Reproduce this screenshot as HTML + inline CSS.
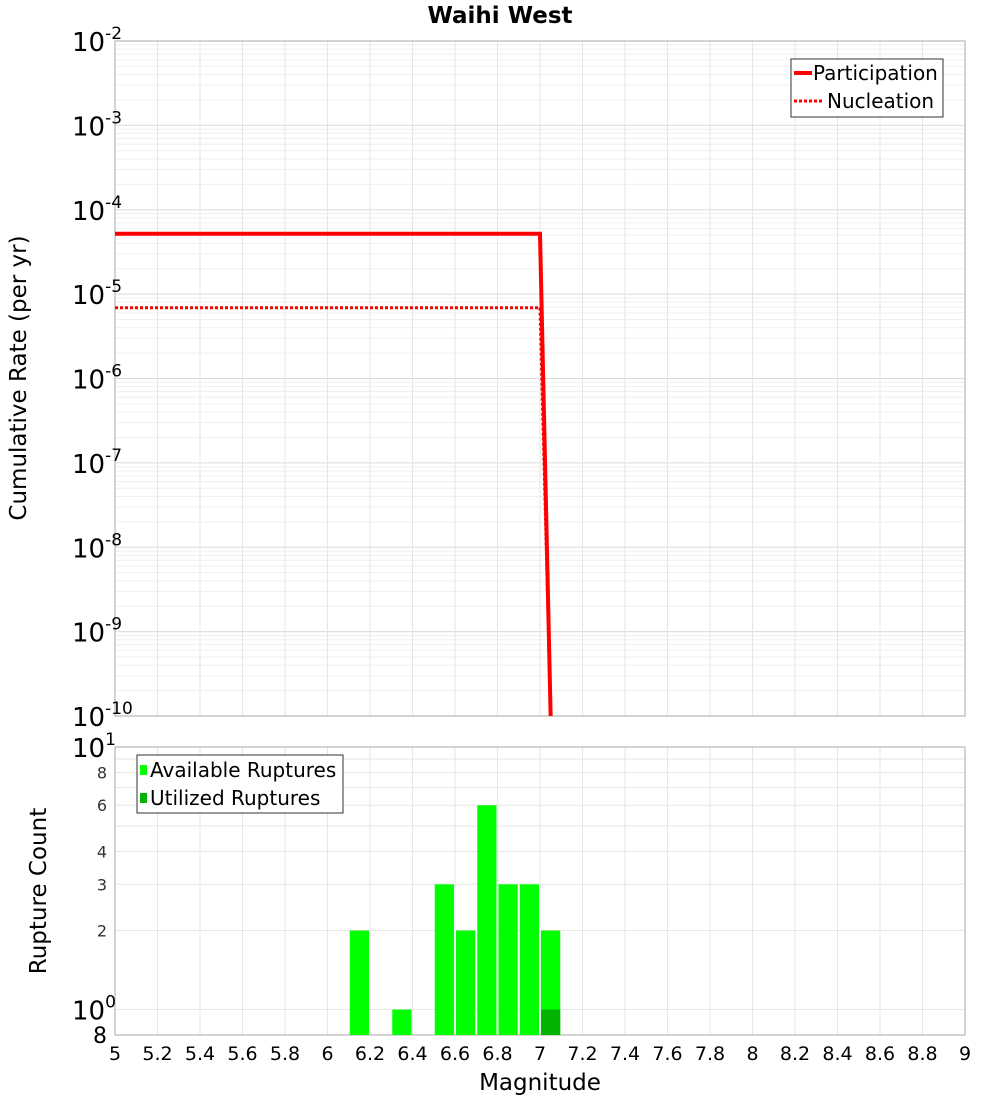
<!DOCTYPE html>
<html><head><meta charset="utf-8"><style>
body{margin:0;background:#fff;font-family:"DejaVu Sans","Liberation Sans",sans-serif}
svg text{font-family:"DejaVu Sans","Liberation Sans",sans-serif}
</style></head><body>
<svg id="c" width="1000" height="1100" xmlns="http://www.w3.org/2000/svg"></svg>
<script>
const xTicks=[5,5.2,5.4,5.6,5.8,6,6.2,6.4,6.6,6.8,7,7.2,7.4,7.6,7.8,8,8.2,8.4,8.6,8.8,9];
const partMag=[5,7.0,7.05];
const partRate=[5.2e-5,5.2e-5,1e-10];
const nuclMag=[5,7.0,7.05];
const nuclRate=[6.9e-6,6.9e-6,1e-10];
const binCenters=[6.15,6.35,6.55,6.65,6.75,6.85,6.95,7.05];
const availCounts=[2,1,3,2,6,3,3,2];
const utilCenters=[7.05];
const utilCounts=[1];
const topExps=[-2,-3,-4,-5,-6,-7,-8,-9,-10];
const botTicks=[2,3,4,6,8];

const svg=document.getElementById('c');const NS='http://www.w3.org/2000/svg';
function mk(t,a,txt,name,p){const e=document.createElementNS(NS,t);for(const k in a)e.setAttribute(k,a[k]);


if(txt!=null)e.textContent=txt;(p||svg).appendChild(e);return e;}
const X0=115,X1=965;
const x=m=>X0+(m-5)/4*(X1-X0);
const T0=41,T1=716;
const yT=v=>T0+(-2-Math.log10(v))/8*(T1-T0);
const B0=747,B1=1035,lmin=Math.log10(0.8);
const yB=v=>B1-(Math.log10(v)-lmin)/(1-lmin)*(B1-B0);

mk('text',{x:500,y:23,'text-anchor':'middle','font-size':23,'font-weight':'bold'},'Waihi West','chart-title');
for(let e=-10;e<-2;e++)for(let k=1;k<10;k++){const y=yT(k*Math.pow(10,e));mk('line',{x1:X0,x2:X1,y1:y,y2:y,stroke:k==1?'#dcdcdc':'#efefef','stroke-width':1},null,'grid-line-h');}
for(const t of xTicks){mk('line',{x1:x(t),x2:x(t),y1:T0,y2:T1,stroke:'#e6e6e6'},null,'grid-line-v');mk('line',{x1:x(t),x2:x(t),y1:B0,y2:B1,stroke:'#e6e6e6'},null,'grid-line-v');}
for(let k=1;k<=10;k++){const y=yB(k);if(y>=B0&&y<=B1)mk('line',{x1:X0,x2:X1,y1:y,y2:y,stroke:'#e6e6e6'},null,'grid-line-h');}
mk('rect',{x:X0,y:T0,width:X1-X0,height:T1-T0,fill:'none',stroke:'#aaa'},null,'top-plot-frame');
mk('rect',{x:X0,y:B0,width:X1-X0,height:B1-B0,fill:'none',stroke:'#aaa'},null,'bottom-plot-frame');
function pw(tx,ty,e,name){const t=mk('text',{x:tx,y:ty,'font-size':26},null,name);const a=document.createElementNS(NS,'tspan');a.textContent='10';t.appendChild(a);const b=document.createElementNS(NS,'tspan');b.setAttribute('dy',-12);b.setAttribute('font-size',17);b.textContent=e;t.appendChild(b);}
for(const e of topExps){pw(72,yT(Math.pow(10,e))+10,e,'y-tick-label');}
mk('text',{x:26,y:378,'text-anchor':'middle','font-size':23,transform:'rotate(-90 26 378)'},'Cumulative Rate (per yr)','y-axis-title-top');
function poly(ms,rs,name,dash){mk('polyline',{points:ms.map((m,i)=>x(m)+','+yT(rs[i])).join(' '),fill:'none',stroke:'#f00','stroke-width':dash?3:4,'stroke-dasharray':dash?'3,2':'none'},null,name);}
poly(partMag,partRate,'participation-line',false);
poly(nuclMag,nuclRate,'nucleation-line',true);
const lg=mk('g',{},null,'legend-top');
mk('rect',{x:791,y:59,width:152,height:58,fill:'#fff',stroke:'#333'},null,'legend-box',lg);
mk('line',{x1:794,x2:812,y1:73,y2:73,stroke:'#f00','stroke-width':4},null,'legend-participation-swatch',lg);
mk('text',{x:813,y:80,'font-size':20},'Participation','legend-participation',lg);
mk('line',{x1:794,x2:822,y1:101,y2:101,stroke:'#f00','stroke-width':3,'stroke-dasharray':'3,2'},null,'legend-nucleation-swatch',lg);
mk('text',{x:827,y:108,'font-size':20},'Nucleation','legend-nucleation',lg);
const bw=0.1*(X1-X0)/4;
binCenters.forEach((c,i)=>{const y=yB(availCounts[i]);mk('rect',{x:x(c)-bw/2+1,y:y,width:bw-2,height:B1-y,fill:'#00ff00'},null,'available-bar');});
utilCenters.forEach((c,i)=>{const y=yB(utilCounts[i]);mk('rect',{x:x(c)-bw/2+1,y:y,width:bw-2,height:B1-y,fill:'#00b400'},null,'utilized-bar');});
for(const v of botTicks)mk('text',{x:107,y:yB(v)+6,'text-anchor':'end','font-size':16,fill:'#333'},v,'y-tick-label-bottom');
pw(72,yB(10)+10,'1','y-tick-label-bottom');
pw(72,yB(1)+10,'0','y-tick-label-bottom');
mk('text',{x:107,y:1043,'text-anchor':'end','font-size':22},'8','y-tick-label-bottom');
mk('text',{x:46,y:891,'text-anchor':'middle','font-size':23,transform:'rotate(-90 46 891)'},'Rupture Count','y-axis-title-bottom');
const lb=mk('g',{},null,'legend-bottom');
mk('rect',{x:137,y:755,width:206,height:58,fill:'#fff',stroke:'#333'},null,'legend-box',lb);
mk('rect',{x:140,y:765,width:7,height:10,fill:'#00ff00'},null,'legend-available-swatch',lb);
mk('text',{x:150,y:777,'font-size':20},'Available Ruptures','legend-available',lb);
mk('rect',{x:140,y:793,width:7,height:10,fill:'#00b400'},null,'legend-utilized-swatch',lb);
mk('text',{x:150,y:805,'font-size':20},'Utilized Ruptures','legend-utilized',lb);
for(const t of xTicks)mk('text',{x:x(t),y:1060,'text-anchor':'middle','font-size':19},String(t),'x-tick-label');
mk('text',{x:540,y:1090,'text-anchor':'middle','font-size':23},'Magnitude','x-axis-title');
</script>
</body></html>
